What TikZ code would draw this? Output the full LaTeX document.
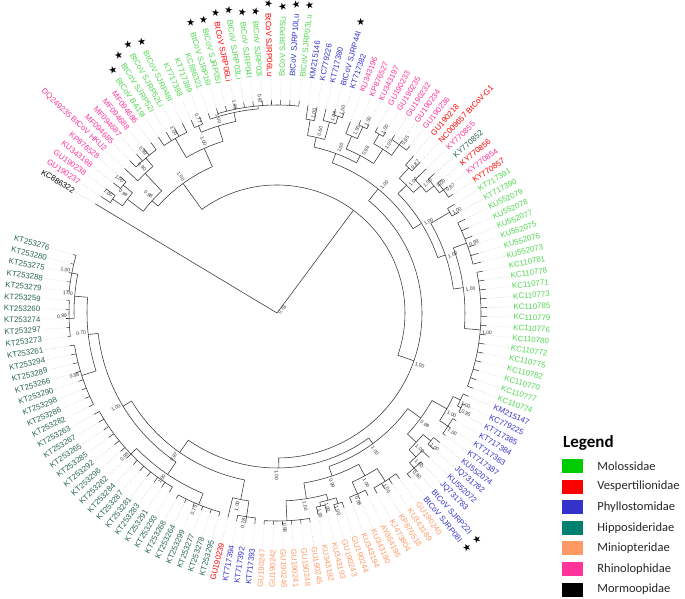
\documentclass[tikz,border=0pt]{standalone}
\usepackage{fontspec}
\setmainfont{Liberation Sans}
\newfontfamily\legfont{Carlito}
\newfontfamily\symfont{DejaVu Sans}
\usetikzlibrary{positioning}

\definecolor{moloss}{RGB}{0,204,0}
\definecolor{molossl}{RGB}{80,214,80}
\definecolor{vesper}{RGB}{255,0,0}
\definecolor{phyllo}{RGB}{51,51,204}
\definecolor{hippo}{RGB}{0,128,112}
\definecolor{hippod}{RGB}{40,100,85}
\definecolor{minio}{RGB}{255,153,102}
\definecolor{rhino}{RGB}{255,51,153}
\definecolor{mormo}{RGB}{0,0,0}

\newcommand\setang[2]{\expandafter\xdef\csname ang.#1\endcsname{#2}}
\newcommand\angof[1]{\csname ang.#1\endcsname}
\newcommand\bstar{{\symfont\fontsize{10}{10}\selectfont\textcolor{black}{★}}}

% tip: index, radius, colour, text, star
\newcommand\tip[5]{%
  \pgfmathsetmacro\ta{149-2.5*(#1-1)}%
  \setang{t#1}{\ta}%
  \coordinate (t#1) at (\ta:#2pt);
  \pgfmathtruncatemacro\side{cos(\ta)>=0}%
  \ifnum\side=1
    \node[tiplab,text=#3,anchor=west,rotate=\ta] (l#1) at (\ta:236pt)
      {#4\ifnum#5=1 \hspace{5pt}\bstar\fi};
  \else
    \pgfmathsetmacro\tb{\ta+180}%
    \node[tiplab,text=#3,anchor=east,rotate=\tb] (l#1) at (\ta:236pt)
      {\ifnum#5=1 \bstar\hspace{5pt}\fi#4};
  \fi
  \draw[leader] (t#1) -- (\ta:235pt);
}

% inner node between angles \af and \al: name, radius, support
\newcommand\knot[3]{%
  \pgfmathsetmacro\ca{(\af+\al)/2}%
  \setang{#1}{\ca}%
  \coordinate (#1) at (\ca:#2pt);
  \draw[branch] (\af:#2pt) arc[start angle=\af, end angle=\al, radius=#2pt];
  \ifx\relax#3\relax\else
    \pgfmathsetmacro\sr{#2+1.5}%
    \pgfmathtruncatemacro\side{cos(\ca)>=0}%
    \ifnum\side=1
      \node[suplab,anchor=north west,rotate=\ca] at (\ca:\sr pt) {#3};
    \else
      \pgfmathsetmacro\cb{\ca+180}%
      \node[suplab,anchor=south east,rotate=\cb] at (\ca:\sr pt) {#3};
    \fi
  \fi
}
\newcommand\clade[4]{%
  \foreach \kid [count=\kk] in {#4}{\ifnum\kk=1 \xdef\cfirst{\kid}\fi\xdef\clast{\kid}}%
  \edef\af{\angof{\cfirst}}\edef\al{\angof{\clast}}%
  \knot{#1}{#2}{#3}%
  \foreach \kid in {#4}{\edef\kang{\angof{\kid}}\draw[branch] (\kang:#2pt) -- (\kid);}%
}
\newcommand\fan[5]{%
  \edef\af{\angof{t#4}}\edef\al{\angof{t#5}}%
  \knot{#1}{#2}{#3}%
  \foreach \kk in {#4,...,#5}{\edef\kang{\angof{t\kk}}\draw[branch] (\kang:#2pt) -- (t\kk);}%
}

\begin{document}
\begin{tikzpicture}[
  branch/.style={draw=black!80,line width=0.55pt},
  leader/.style={draw=black!30,line width=0.3pt,dash pattern=on 0.6pt off 1.4pt},
  tiplab/.style={inner sep=0.5pt,font=\fontsize{7.9}{8}\selectfont},
  suplab/.style={inner sep=0.4pt,text=black!80,font=\fontsize{5}{5}\selectfont},
  legbox/.style={minimum width=21pt,minimum height=14pt,inner sep=0pt},
  legtext/.style={inner sep=0pt,text=black!85,font=\legfont\fontsize{12.5}{13}\selectfont}]
\useasboundingbox (-277pt,-285pt) rectangle (408pt,313pt);

\foreach \lab/\col/\rt/\st [count=\i] in {
  KC886322/mormo/212/0, GU190237/rhino/211/0, GU190238/rhino/211/0,
  KU343198/rhino/209/0, KP876528/rhino/208/0, DQ249235 BtCoV HKU2/rhino/210/0,
  MF094685/rhino/212/0, MF094687/rhino/212/0, MF094688/rhino/212/0, MF094686/rhino/212/0,
  BtCoV BA19I/molossl/212/1, BtCoV SJRP52I/molossl/212/1, BtCoV SJRP52Li/molossl/212/1,
  BtCoV SJRP48I/molossl/212/1, KT717388/molossl/211/0, KT717389/molossl/211/0,
  KC886321/molossl/211/0, BtCoV SJRP16I/molossl/213/1, BtCoV SJRP05I/molossl/213/1,
  BtCoV SJRP06Li/vesper/213/1, BtCoV SJRP03Li/molossl/213/1, BtCoV SJRP04I/molossl/213/1,
  BtCoV SJRP03I/molossl/213/1, BtCoV SJRP06Lu/vesper/213/1, BtCoV SJRP05Li/molossl/213/1,
  BtCoV SJRP10Lu/phyllo/213/1, BtCoV SJRP03Lu/molossl/213/1,
  KM215146/phyllo/210/0, KC779226/phyllo/210/0, KT717380/phyllo/210/0,
  BtCoV SJRP44I/phyllo/212/1, KT717382/phyllo/212/0,
  KU343196/rhino/205/0, KP876527/rhino/210/0, KU343197/rhino/210/0, GU190233/rhino/211/0,
  GU190235/rhino/211/0, GU190232/rhino/213/0, GU190234/rhino/213/0, GU190236/rhino/213/0,
  GU190218/vesper/208/0, NC009657 BtCoV-G1/vesper/208/0, KY770855/rhino/207/0,
  KY770852/hippod/210/0, KY770856/vesper/212/0, KY770854/rhino/212/0, KY770857/vesper/212/0,
  KT717391/molossl/208/0, KT717390/molossl/208/0, KU552079/molossl/210/0,
  KU552078/molossl/210/0, KU552077/molossl/210/0, KU552075/molossl/210/0,
  KU552076/molossl/210/0, KU552073/molossl/210/0,
  KC110781/molossl/210/0, KC110778/molossl/210/0, KC110771/molossl/210/0,
  KC110773/molossl/210/0, KC110785/molossl/210/0, KC110779/molossl/210/0,
  KC110776/molossl/210/0, KC110780/molossl/210/0, KC110772/molossl/210/0,
  KC110775/molossl/210/0, KC110782/molossl/210/0, KC110770/molossl/210/0,
  KC110777/molossl/210/0, KC110774/molossl/210/0,
  KM215147/phyllo/209/0, KC779225/phyllo/209/0, KT717385/phyllo/209/0, KT717384/phyllo/209/0,
  KT717383/phyllo/208/0, KT717387/phyllo/208/0, KU552074/phyllo/208/0, JQ731782/phyllo/208/0,
  KU552072/phyllo/210/0, JQ731783/phyllo/210/0, BtCoV SJRP22I/phyllo/212/1,
  BtCoV SJRP08I/phyllo/212/1,
  GU190240/minio/206/0, KU343189/minio/206/0, KP876518/minio/206/0, KJ473804/minio/206/0,
  AY864196/minio/204/0, KU343190/minio/204/0, KU343194/minio/204/0, GU190244/minio/206/0,
  GU190243/minio/206/0, KU343193/minio/206/0, KU343192/minio/206/0, GU190245/minio/212/0,
  GU190248/minio/212/0, GU190241/minio/212/0, GU190246/minio/212/0, GU190242/minio/212/0,
  GU190247/minio/212/0,
  KT717393/phyllo/212/0, KT717392/phyllo/212/0, KT717394/phyllo/212/0, GU190239/vesper/210/0,
  KT253295/hippod/211/0, KT253278/hippod/211/0, KT253277/hippod/211/0, KT253299/hippod/211/0,
  KT253264/hippod/211/0, KT253268/hippod/211/0, KT253293/hippod/209/0, KT253291/hippod/209/0,
  KT253283/hippod/209/0, KT253281/hippod/209/0, KT253287/hippod/209/0, KT253284/hippod/209/0,
  KT253262/hippod/209/0, KT253296/hippod/209/0, KT253292/hippod/209/0, KT253285/hippod/209/0,
  KT253265/hippod/209/0, KT253267/hippod/209/0, KT253263/hippod/209/0, KT253282/hippod/210/0,
  KT253286/hippod/210/0, KT253298/hippod/210/0, KT253290/hippod/210/0, KT253266/hippod/210/0,
  KT253289/hippod/210/0, KT253294/hippod/210/0, KT253261/hippod/210/0, KT253273/hippod/211/0,
  KT253297/hippod/211/0, KT253274/hippod/211/0, KT253260/hippod/211/0, KT253259/hippod/211/0,
  KT253279/hippod/212/0, KT253288/hippod/212/0, KT253275/hippod/212/0, KT253280/hippod/212/0,
  KT253276/hippod/212/0}
  {\tip{\i}{\rt}{\col}{\lab}{\st}}

\fan{Ra}{200}{1.00}{2}{3}
\fan{Rc}{200}{1.00}{4}{5}
\clade{Rb}{188}{0.99}{Ra,Rc}
\fan{Re}{203}{0.99}{7}{10}
\clade{Rd}{192}{0.90}{t6,Re}
\clade{Rh}{168}{0.98}{Rb,Rd}
\fan{Ga}{202}{1.00}{11}{14}
\fan{Gb}{203}{0.77}{15}{16}
\fan{Gd}{208}{0.97}{18}{27}
\clade{Gc}{205}{1.00}{t17,Gd}
\clade{Ge}{196}{1.00}{Gb,Gc}
\clade{Gr}{180}{1.00}{Ga,Ge}
\clade{P}{160}{1.00}{Rh,Gr}
\fan{Pha}{196}{1.00}{28}{29}
\fan{Phc}{206}{1.00}{31}{32}
\clade{Phb}{198}{1.00}{t30,Phc}
\clade{Ph}{180}{0.60}{Pha,Phb}
\fan{Pkc}{205}{1.00}{34}{35}
\clade{Pka}{192}{1.00}{t33,Pkc}
\fan{Pkd}{206}{1.00}{36}{37}
\fan{Pke}{208}{0.95}{38}{40}
\clade{Pkb}{195}{1.00}{Pkd,Pke}
\clade{Pk}{178}{0.98}{Pka,Pkb}
\clade{T}{170}{1.00}{Ph,Pk}
\fan{Va}{196}{0.87}{41}{42}
\fan{Vd}{207}{0.87}{45}{47}
\clade{Vc}{202}{1.00}{t44,Vd}
\clade{Vb}{192}{1.00}{t43,Vc}
\clade{V}{182}{1.00}{Va,Vb}
\fan{Wa}{200}{1.00}{48}{49}
\fan{Wb}{202}{0.99}{50}{55}
\fan{Wc}{204}{1.00}{56}{69}
\clade{Wx}{188}{1.00}{Wb,Wc}
\clade{W}{178}{1.00}{Wa,Wx}
\clade{U}{170}{1.00}{V,W}
\clade{Q1}{160}{1.00}{T,U}
\fan{Bp}{207}{0.95}{71}{72}
\clade{Bq}{203}{1.00}{t70,Bp}
\fan{Br}{205}{1.00}{73}{75}
\clade{Ba}{195}{1.00}{Bq,Br}
\fan{Bs}{200}{1.00}{76}{77}
\fan{Bu}{207}{0.90}{79}{81}
\clade{Bt}{200}{1.00}{t78,Bu}
\clade{Bb}{190}{1.00}{Bs,Bt}
\clade{B}{178}{0.99}{Ba,Bb}
\fan{Maa}{200}{1.00}{82}{85}
\fan{Mab}{198}{0.98}{86}{88}
\clade{Ma}{185}{1.00}{Maa,Mab}
\fan{Mba}{200}{1.00}{89}{90}
\fan{Mbb}{198}{1.00}{91}{92}
\clade{Mbc}{194}{1.00}{Mba,Mbb}
\fan{Mbd}{208}{0.98}{93}{98}
\clade{Mb}{188}{1.00}{Mbc,Mbd}
\clade{M}{172}{0.99}{Ma,Mb}
\clade{Qa}{162}{1.00}{B,M}
\fan{Bw}{206}{0.78}{99}{101}
\clade{Bv}{190}{1.00}{Bw,t102}
\fan{Hba}{207}{0.75}{103}{108}
\fan{Hbb}{203}{0.98}{109}{121}
\clade{Hb}{195}{1.00}{Hba,Hbb}
\fan{Hla}{205}{0.98}{122}{129}
\fan{Hlb}{208}{0.99}{130}{134}
\fan{Hlc}{209}{1.00}{135}{139}
\clade{Hld}{203}{1.00}{Hlb,Hlc}
\clade{Hl}{190}{0.70}{Hla,Hld}
\clade{H}{180}{1.00}{Hb,Hl}
\clade{Qb}{170}{0.97}{Bv,H}
\clade{Qc}{155}{1.00}{Qa,Qb}
\clade{Q}{145}{1.00}{Q1,Qc}
\clade{Y}{128}{}{P,Q}

\coordinate (root) at (0,0);
\draw[branch] (root) -- (t1);
\draw[branch] (root) -- (Y);
\edef\ya{\angof{Y}}
\node[suplab,anchor=north west,rotate=\ya] at (root) {0.78};

\node[anchor=west,inner sep=0pt,text=black,font=\legfont\bfseries\fontsize{17}{17}\selectfont] (legend) at (286pt,-130pt) {Legend};
\foreach \fam/\col [count=\kk] in {Molossidae/moloss,Vespertilionidae/vesper,Phyllostomidae/phyllo,Hipposideridae/hippo,Miniopteridae/minio,Rhinolophidae/rhino,Mormoopidae/mormo}{
  \node[legbox,fill=\col] (box\kk) at (295.5pt,{-153pt-20.6pt*(\kk-1)}) {};
  \node[legtext,right=14pt of box\kk] (fam\kk) {\fam};
}
\end{tikzpicture}
\end{document}
